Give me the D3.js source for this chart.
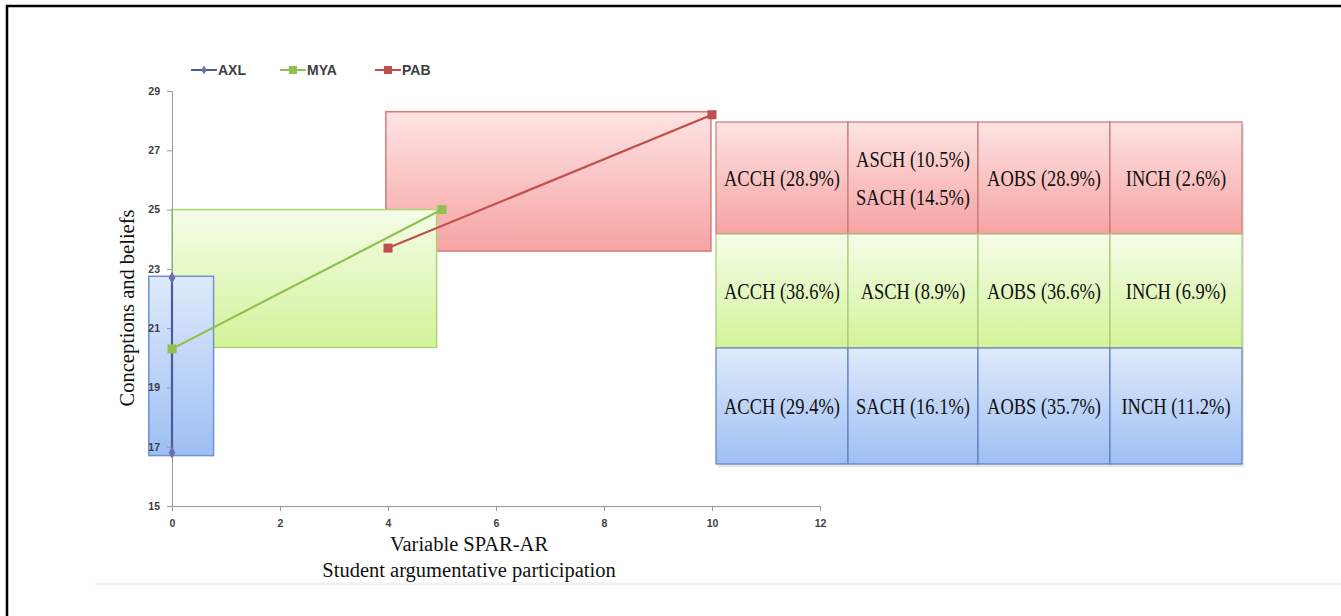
<!DOCTYPE html>
<html><head><meta charset="utf-8">
<script src="https://cdn.jsdelivr.net/npm/d3@7"></script>
<style>body{margin:0;background:#fff}svg{display:block}</style>
</head><body>
<svg id="c" width="1341" height="616"></svg>
<script>
// ---- data ----
const seriesNames = ["AXL", "MYA", "PAB"];
const axlX = [0, 0], axlY = [22.7, 16.8];
const myaX = [0, 5], myaY = [20.3, 25];
const pabX = [4, 10], pabY = [23.7, 28.2];
// range boxes (data units): [xMin, xMax, yMin, yMax]
const axlBox = [-0.43, 0.77, 16.7, 22.75];
const myaBox = [0, 4.9, 20.35, 25];
const pabBox = [3.96, 9.98, 23.6, 28.3];
const xTicks = [0, 2, 4, 6, 8, 10, 12];
const yTicks = [15, 17, 19, 21, 23, 25, 27, 29];
const pabRow = ["ACCH (28.9%)", "ASCH (10.5%)|SACH (14.5%)", "AOBS (28.9%)", "INCH (2.6%)"];
const myaRow = ["ACCH (38.6%)", "ASCH (8.9%)", "AOBS (36.6%)", "INCH (6.9%)"];
const axlRow = ["ACCH (29.4%)", "SACH (16.1%)", "AOBS (35.7%)", "INCH (11.2%)"];
const xTitle = ["Variable SPAR-AR", "Student argumentative participation"];
const yTitle = "Conceptions and beliefs";

const svg = d3.select("#c");
const x = d3.scaleLinear().domain([0, 12]).range([172, 820]);
const y = d3.scaleLinear().domain([15, 29]).range([506, 91]);
const serif = "'Liberation Serif', 'Times New Roman', serif";
const sans = "Arial, 'Liberation Sans', sans-serif";

const defs = svg.append("defs");
function grad(id, c1, c2) {
  const g = defs.append("linearGradient").attr("id", id).attr("x1", 0).attr("y1", 0).attr("x2", 0).attr("y2", 1);
  g.append("stop").attr("offset", "0%").attr("stop-color", c1);
  g.append("stop").attr("offset", "100%").attr("stop-color", c2);
}
grad("gR", "#fde3e3", "#f7a3a3");
grad("gG", "#f5fde8", "#d3f39a");
grad("gB", "#dfeafb", "#9dbff4");

// frame
svg.append("path").attr("d", "M7,616 V6 H1341").attr("fill", "none").attr("stroke", "#000").attr("stroke-width", 2.5);
svg.append("line").attr("x1", 95).attr("x2", 1341).attr("y1", 584).attr("y2", 584).attr("stroke", "#f2f2f2").attr("stroke-width", 3);

// boxes
function box(b, fill, stroke) {
  svg.append("rect").attr("x", x(b[0])).attr("y", y(b[3]))
    .attr("width", x(b[1]) - x(b[0])).attr("height", y(b[2]) - y(b[3]))
    .attr("fill", fill).attr("stroke", stroke).attr("stroke-width", 1.5);
}
box(pabBox, "url(#gR)", "#d97a7a");
box(myaBox, "url(#gG)", "#a8d670");
box(axlBox, "url(#gB)", "#6f92d2");

// axes
const gy = svg.append("g").attr("transform", `translate(${x(0)},0)`)
  .call(d3.axisLeft(y).tickValues(yTicks).tickSize(5).tickPadding(7));
const gx = svg.append("g").attr("transform", `translate(0,${y(15)})`)
  .call(d3.axisBottom(x).tickValues(xTicks).tickSize(5).tickPadding(9));
[gx, gy].forEach(g => {
  g.select(".domain").attr("stroke", "#999");
  g.selectAll(".tick line").attr("stroke", "#999");
  g.selectAll(".tick text").attr("fill", "#404040").attr("font-family", sans)
    .attr("font-size", 10.5).attr("font-weight", "bold");
});

// lines
const colors = {AXL: "#4a5a9c", MYA: "#92c050", PAB: "#c0504d"};
const series = [
  {name: "AXL", xs: axlX, ys: axlY},
  {name: "MYA", xs: myaX, ys: myaY},
  {name: "PAB", xs: pabX, ys: pabY}
];
const line = d3.line().x(d => x(d[0])).y(d => y(d[1]));
series.forEach(s => {
  const pts = s.xs.map((v, i) => [v, s.ys[i]]);
  svg.append("path").attr("d", line(pts)).attr("fill", "none").attr("stroke", colors[s.name]).attr("stroke-width", 2.2);
  pts.forEach(p => {
    if (s.name === "AXL") {
      svg.append("path").attr("d", d3.symbol(d3.symbolDiamond, 40)()).attr("transform", `translate(${x(p[0])},${y(p[1])})`).attr("fill", "#6a6fb0");
    } else {
      svg.append("rect").attr("x", x(p[0]) - 4.5).attr("y", y(p[1]) - 4.5).attr("width", 9).attr("height", 9).attr("fill", colors[s.name]);
    }
  });
});

// legend
const legX = [191, 280, 375];
seriesNames.forEach((n, i) => {
  const lx = legX[i], ly = 70;
  svg.append("line").attr("x1", lx).attr("x2", lx + 26).attr("y1", ly).attr("y2", ly).attr("stroke", colors[n]).attr("stroke-width", 2);
  if (n === "AXL") svg.append("path").attr("d", d3.symbol(d3.symbolDiamond, 24)()).attr("transform", `translate(${lx + 13},${ly})`).attr("fill", "#6a6fb0");
  else svg.append("rect").attr("x", lx + 9).attr("y", ly - 4).attr("width", 8).attr("height", 8).attr("fill", colors[n]);
  svg.append("text").attr("x", lx + 27).attr("y", ly + 5).text(n).attr("font-family", sans)
    .attr("font-size", 14).attr("font-weight", "bold").attr("fill", "#404040");
});

// axis titles
svg.append("text").attr("transform", "translate(134,308) rotate(-90)").attr("text-anchor", "middle")
  .attr("font-family", serif).attr("font-size", 20.5).attr("fill", "#111").text(yTitle);
xTitle.forEach((t, i) => {
  svg.append("text").attr("x", 469).attr("y", 551 + i * 26).attr("text-anchor", "middle")
    .attr("font-family", serif).attr("font-size", 20.5).attr("fill", "#111").text(t);
});

// table
const colEdges = [716, 848, 978, 1110, 1242];
const rows = [
  {cells: pabRow, top: 122, bot: 234, fill: "url(#gR)", stroke: "#c87878"},
  {cells: myaRow, top: 234, bot: 348, fill: "url(#gG)", stroke: "#a8c878"},
  {cells: axlRow, top: 348, bot: 464, fill: "url(#gB)", stroke: "#5f80bc"}
];
svg.append("rect").attr("x", colEdges[0] + 2).attr("y", 125).attr("width", colEdges[4] - colEdges[0]).attr("height", 342).attr("fill", "#ccc").attr("opacity", 0.5);
rows.forEach(r => {
  r.cells.forEach((c, j) => {
    const x0 = colEdges[j], x1 = colEdges[j + 1];
    svg.append("rect").attr("x", x0).attr("y", r.top).attr("width", x1 - x0).attr("height", r.bot - r.top)
      .attr("fill", r.fill).attr("stroke", r.stroke).attr("stroke-width", 1.2);
    const lines = c.split("|");
    const cx = (x0 + x1) / 2, cy = (r.top + r.bot) / 2;
    lines.forEach((t, k) => {
      const ty = cy + (k - (lines.length - 1) / 2) * 38 + 8;
      svg.append("text").attr("transform", `translate(${cx},${ty}) scale(0.77,1)`).attr("text-anchor", "middle")
        .attr("font-family", serif).attr("font-size", 24).attr("fill", "#111").text(t);
    });
  });
});
</script>
</body></html>
